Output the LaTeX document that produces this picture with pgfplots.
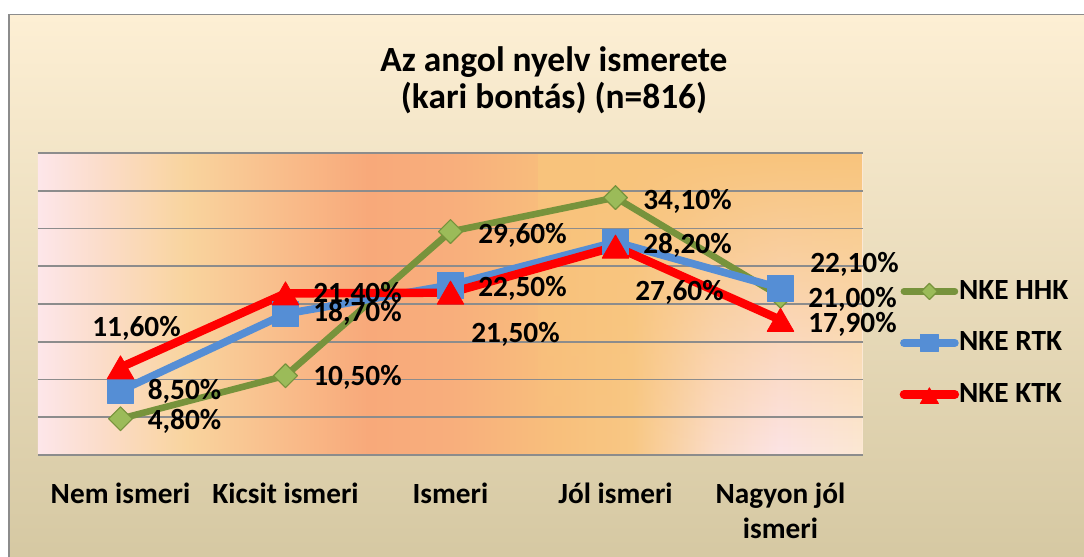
\documentclass[border=0pt]{standalone}
\usepackage{pgfplots}
\usepackage{pgfplotstable}
\pgfplotsset{compat=1.18}
\usetikzlibrary{fadings}
\usepackage{fontspec}
\setmainfont{Carlito}

\definecolor{hhkline}{HTML}{77933C}
\definecolor{hhkfill}{HTML}{9BBB59}
\definecolor{rtk}{HTML}{558ED5}
\definecolor{ktk}{HTML}{FF0000}
\definecolor{gridc}{HTML}{8C8C8C}
\definecolor{frametop}{HTML}{FDEFD4}
\definecolor{framebot}{HTML}{D5C8A2}
\definecolor{bgA}{HTML}{FDE6EA}
\definecolor{bgB}{HTML}{FBDCC8}
\definecolor{bgC}{HTML}{F9D49E}
\definecolor{bgD}{HTML}{F9BC8A}
\definecolor{bgE}{HTML}{F8A97A}
\definecolor{bgF}{HTML}{F8AE7C}
\definecolor{bgG}{HTML}{F8BE7C}
\definecolor{bgH}{HTML}{F9C884}
\definecolor{bgI}{HTML}{FBDCC8}
\definecolor{bgJ}{HTML}{FCE4E6}
\definecolor{bgK}{HTML}{FCE8D4}
\definecolor{ovl}{HTML}{F8C47C}

\pgfdeclarehorizontalshading{plotbg}{100bp}{%
color(0bp)=(bgA); color(25bp)=(bgA); color(29bp)=(bgB); color(34bp)=(bgC);
color(40bp)=(bgD); color(45bp)=(bgE); color(50bp)=(bgF); color(56bp)=(bgG);
color(61bp)=(bgH); color(66bp)=(bgI); color(70bp)=(bgJ); color(75bp)=(bgK);
color(100bp)=(bgK)}

\newcommand{\lblfont}{\fontsize{14.65}{17.5}\selectfont\bfseries}

% x y dx dy  (label offsets in pt)
\pgfplotstableread{
x y dx dy
0 4.8 32 -1
1 10.5 36 -0.5
2 29.6 36 -1.5
3 34.1 36 -1.5
4 21.0 36 -1
}\hhk
\pgfplotstableread{
x y dx dy
0 8.5 32 0.5
1 18.7 36 1
2 22.5 36 -1
3 28.2 36 -1
4 22.1 37 12.5
}\rtk
\pgfplotstableread{
x y dx dy
0 11.6 8 20
1 21.4 36 0
2 21.5 32.5 -20.5
3 27.6 32 -22.5
4 17.9 36 -1.5
}\ktk

\pgfplotsset{
  lblplot/.style={draw=none, mark=none, forget plot, point meta=y,
  visualization depends on={\thisrow{dx} \as \dx},
  visualization depends on={\thisrow{dy} \as \dy},
  nodes near coords={\pgfmathprintnumber[fixed,fixed zerofill,precision=2,use comma,assume math mode=true]{\pgfplotspointmeta}\%},
  nodes near coords style={anchor=base, inner sep=0pt, font=\lblfont, text=black,
    xshift=\dx pt, yshift={\dy pt - 4.6pt}}}
}

\begin{document}
\begin{tikzpicture}
\path[use as bounding box] (0pt,0pt) rectangle (542pt,278.5pt);
\shade[top color=frametop, bottom color=framebot] (4.5pt,-3pt) rectangle (546pt,271.2pt);
\draw[gray!90, line width=0.9pt] (4.5pt,-3pt) -- (4.5pt,271.2pt) -- (546pt,271.2pt);

\node[anchor=base, font=\fontsize{17.7}{18.5}\selectfont\bfseries] at (277pt,242.8pt) {Az angol nyelv ismerete};
\node[anchor=base, font=\fontsize{17.7}{18.5}\selectfont\bfseries] at (277pt,224.3pt) {(kari bontás) (n=816)};

\begin{axis}[
  at={(19pt,51pt)}, anchor=south west,
  scale only axis, width=412.5pt, height=151pt,
  xmin=-0.5, xmax=4.5, ymin=0, ymax=40,
  ytick={0,5,...,40}, yticklabels={},
  ymajorgrids, major grid style={gridc, line width=0.9pt},
  axis line style={draw=none},
  tick style={draw=none},
  xtick={0,1,2,3,4},
  xticklabels={{\strut Nem ismeri},{\strut Kicsit ismeri},{\strut Ismeri},{\strut Jól ismeri},{\strut Nagyon jól\\ismeri}},
  xticklabel style={anchor=north, inner sep=0pt, yshift=-11.9pt, align=center, font=\lblfont},
  axis background/.style={shade, shading=plotbg,
    path picture={\fill[ovl, path fading=south]
      ([xshift=250pt]path picture bounding box.south west) rectangle (path picture bounding box.north east);}},
  clip=false,
  legend style={draw=none, fill=none, at={(1.044,0.371)}, anchor=west,
    font=\lblfont, row sep=14.75pt, column sep=0pt, inner sep=0pt,
    nodes={inner sep=0pt}},
  legend cell align=left,
  legend image code/.code={%
    \draw[#1, mark repeat=2, mark phase=2, every mark/.append style={scale=0.68}]
      plot coordinates {(0pt,0pt) (12.75pt,0pt) (25.5pt,0pt)};},
  every axis plot/.append style={line join=round, line cap=round},
]
\addplot[hhkline, line width=3.3pt, mark=square*, mark size=4.2pt,
  mark options={solid, rotate=45, fill=hhkfill, draw=hhkline, line width=0.6pt}]
  table[x=x,y=y] {\hhk};
\addlegendentry{NKE HHK}
\addplot[rtk, line width=3.8pt, mark=square*, mark size=6.4pt,
  mark options={solid, fill=rtk, draw=rtk, line width=0.4pt}]
  table[x=x,y=y] {\rtk};
\addlegendentry{NKE RTK}
\addplot[ktk, line width=4.2pt, mark=triangle*, mark size=7.7pt,
  mark options={solid, fill=ktk, draw=ktk, line width=0.4pt, yshift=-1.9pt}]
  table[x=x,y=y] {\ktk};
\addlegendentry{NKE KTK}

\addplot[lblplot] table[x=x,y=y] {\hhk};
\addplot[lblplot] table[x=x,y=y] {\rtk};
\addplot[lblplot] table[x=x,y=y] {\ktk};
\end{axis}
\end{tikzpicture}
\end{document}
